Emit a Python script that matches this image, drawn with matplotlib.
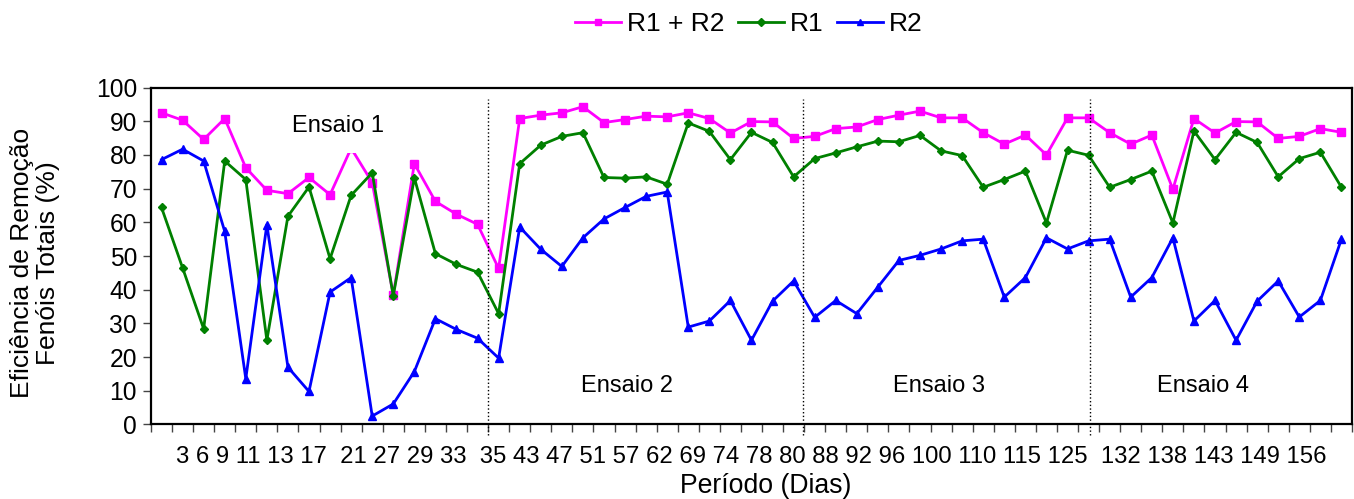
import numpy as np
import matplotlib
matplotlib.use('Agg')
import matplotlib.pyplot as plt

plt.rcParams['font.family'] = ['Liberation Sans', 'DejaVu Sans']

# Dias (rotulos do eixo x, agrupados como aparecem no grafico)
grupos_dias = [
    ['3', '6', '9', '11', '13', '17'],
    ['21', '27', '29', '33'],
    ['35', '43', '47', '51', '57', '62', '69', '74', '78', '80', '88', '92', '96',
     '100', '110', '115', '125'],
    ['132', '138', '143', '149', '156'],
]

# Eficiencia de remocao (%) por amostra
r1_r2 = [92.5, 90.3, 84.6, 90.8, 76.2, 69.5, 68.5, 73.3, 68.2, 82.0, 71.8, 38.4, 77.4, 66.2, 62.4, 59.4, 46.3,
         90.8, 91.8, 92.5, 94.3, 89.6, 90.5, 91.5, 91.3, 92.5, 90.8, 86.5, 89.9, 89.8, 84.9, 85.5,
         87.8, 88.3, 90.5, 91.8, 93.0, 91.0, 91.0, 86.6, 83.2, 85.9, 80.0, 91.0, 91.0,
         86.6, 83.2, 85.9, 69.8, 90.8, 86.5, 89.9, 89.8, 84.9, 85.5, 87.8, 86.7]
r1 = [64.4, 46.5, 28.4, 78.2, 72.7, 25.0, 61.8, 70.5, 49.2, 68.0, 74.7, 38.2, 73.2, 50.7, 47.5, 45.2, 32.9,
      77.4, 82.9, 85.5, 86.6, 73.3, 73.1, 73.5, 71.3, 89.5, 87.0, 78.6, 86.7, 83.7, 73.5, 78.9,
      80.6, 82.4, 84.1, 83.9, 85.8, 81.2, 79.8, 70.4, 72.7, 75.2, 59.8, 81.4, 79.9,
      70.4, 72.7, 75.2, 59.8, 87.1, 78.6, 86.7, 83.7, 73.5, 78.9, 80.8, 70.4]
r2 = [78.6, 81.7, 78.2, 57.3, 13.6, 59.3, 17.0, 9.8, 39.3, 43.6, 2.5, 6.1, 15.7, 31.4, 28.2, 25.6, 19.7,
      58.6, 52.0, 46.9, 55.4, 61.0, 64.4, 67.7, 69.0, 28.9, 30.7, 36.8, 25.0, 36.6, 42.6, 31.8,
      36.8, 32.9, 40.8, 48.7, 50.2, 52.1, 54.5, 55.0, 37.8, 43.6, 55.4, 52.1, 54.5,
      55.0, 37.8, 43.6, 55.4, 30.7, 36.8, 25.0, 36.6, 42.6, 31.9, 36.8, 55.0]

ensaios = ['Ensaio 1', 'Ensaio 2', 'Ensaio 3', 'Ensaio 4']
quebras = [15.5, 30.45, 44.05]

x = np.arange(len(r1_r2))

fig = plt.figure(figsize=(13.54, 4.99), dpi=100)
ax = fig.add_axes([0.1115, 0.1493, 0.887, 0.6753])

ax.plot(x, r1_r2, color='#FF00FF', lw=2, marker='s', ms=6, label='R1 + R2')
ax.plot(x, r1, color='#008000', lw=2, marker='D', ms=4.5, label='R1')
ax.plot(x, r2, color='#0000FF', lw=2, marker='^', ms=6, label='R2')

# linhas pontilhadas separando os ensaios
for q in quebras:
    ax.plot([q, q], [-3.1, 96.6], color='black', lw=1, ls=':', clip_on=False)

# a caixa branca do "Ensaio 1" cobre o pico do dia 21
ax.text(8.4, 88.5, ensaios[0], fontsize=17, ha='center', va='center', zorder=5,
        bbox=dict(facecolor='white', edgecolor='none', pad=11))
ax.text(22.1, 11.4, ensaios[1], fontsize=17, ha='center', va='center')
ax.text(36.9, 11.4, ensaios[2], fontsize=17, ha='center', va='center')
ax.text(49.45, 11.4, ensaios[3], fontsize=17, ha='center', va='center')

ax.set_xlim(-0.5, len(x) - 0.5)
ax.set_ylim(0, 100)
ax.set_yticks(np.arange(0, 101, 10))
ax.set_xticks(np.arange(-0.5, len(x), 1))
ax.set_xticklabels([])
ax.tick_params(axis='both', direction='out', length=6, width=1, color='#444444')
ax.tick_params(axis='y', labelsize=17.7, pad=4)
for s in ax.spines.values():
    s.set_linewidth(1.6)
    s.set_zorder(6)

# rotulos dos dias escritos como uma linha de texto
texto_dias = '  '.join(' '.join(g) for g in grupos_dias)
ax.text(0.5, -0.0964, texto_dias, transform=ax.transAxes, fontsize=17.2,
        ha='center', va='center')

fig.text(766 / 1354, 1 - 485.7 / 499, 'Período (Dias)', fontsize=19.2,
         ha='center', va='center')
fig.text(35 / 1354, 1 - 263 / 499, 'Eficiência de Remoção\nFenóis Totais (%)',
         fontsize=19, rotation=90, ha='center', va='center', multialignment='center',
         linespacing=1.1)

fig.legend(loc='center', bbox_to_anchor=(749 / 1354, 1 - 24 / 499), ncol=3,
           frameon=False, fontsize=19, handlelength=1.76, handletextpad=0.22,
           columnspacing=0.5, markerscale=0.8)

plt.savefig('out.png', dpi=100)
